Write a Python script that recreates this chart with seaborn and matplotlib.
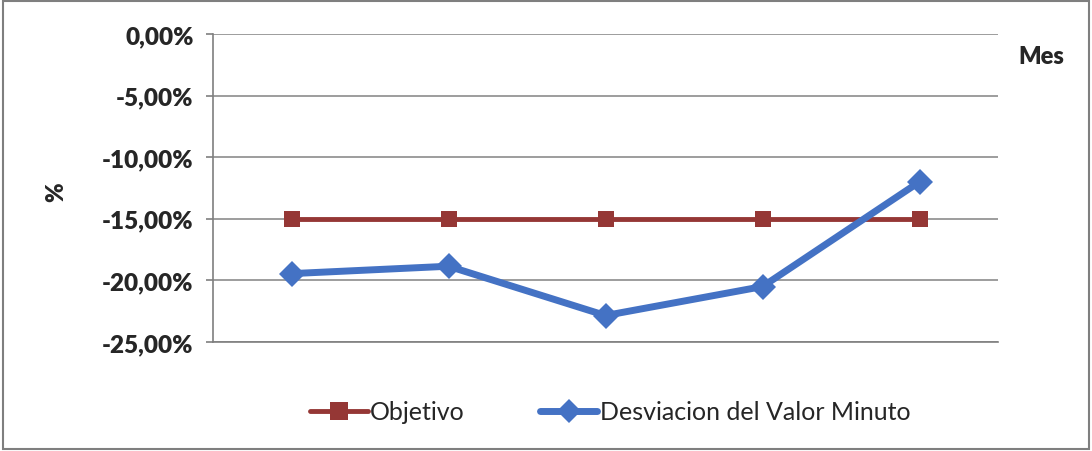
import matplotlib
matplotlib.use("Agg")
import matplotlib.pyplot as plt
import matplotlib.patches as mpatches
from matplotlib.lines import Line2D
from matplotlib.ticker import FuncFormatter, MultipleLocator
import seaborn as sns
import pandas as pd

# Monthly series (percent)
meses = [1, 2, 3, 4, 5]
objetivo = [-15.0, -15.0, -15.0, -15.0, -15.0]
desviacion = [-19.45, -18.85, -22.85, -20.5, -12.0]
series_names = ["Objetivo", "Desviacion del Valor Minuto"]

df = pd.DataFrame({
    "Mes": meses * 2,
    "valor": objetivo + desviacion,
    "serie": [series_names[0]] * len(meses) + [series_names[1]] * len(meses),
})

sns.set_theme(style="white")
plt.rcParams["font.family"] = ["Lato", "DejaVu Sans"]

red = "#953735"
blue = "#4472C4"

fig = plt.figure(figsize=(10.92, 4.52), dpi=100)
ax = fig.add_axes([213 / 1092, 1 - 343 / 452, (998 - 213) / 1092, (343 - 35) / 452])

sns.lineplot(
    data=df, x="Mes", y="valor", hue="serie", style="serie",
    palette={series_names[0]: red, series_names[1]: blue},
    markers={series_names[0]: "s", series_names[1]: "D"},
    dashes=False, markersize=13, markeredgewidth=0, linewidth=5,
    ax=ax, legend=False,
)
ax.lines[0].set_linewidth(3.5)
ax.lines[0].set_markersize(12)

ax.set_xlim(0.5, 5.5)
ax.set_ylim(-25, 0)
ax.yaxis.set_major_locator(MultipleLocator(5))
ax.yaxis.set_major_formatter(FuncFormatter(lambda v, p: f"{v:.2f}".replace(".", ",") + "%"))
ax.set_xticks([])
ax.grid(axis="y", color="#8c8c8c", linewidth=1.2)
for s in ["top", "right"]:
    ax.spines[s].set_visible(False)
for s in ["left", "bottom"]:
    ax.spines[s].set_color("#7f7f7f")
    ax.spines[s].set_linewidth(1.2)
ax.tick_params(axis="y", left=True, length=5, color="#7f7f7f", width=1.2,
               labelsize=17.5, pad=9)
for lbl in ax.get_yticklabels():
    lbl.set_fontweight("heavy")
ax.set_xlabel("")
ax.set_ylabel("%", fontsize=17, fontweight="heavy", rotation=90)
ax.yaxis.set_label_coords(-0.186, 0.49)

fig.text(1041 / 1092, 1 - 57 / 452, "Mes", fontsize=17, fontweight="heavy",
         ha="center", va="center")

handles = [
    Line2D([], [], color=red, marker="s", markersize=13, linewidth=3.5, markeredgewidth=0),
    Line2D([], [], color=blue, marker="D", markersize=12, linewidth=5, markeredgewidth=0),
]
fig.legend(handles, series_names, loc="center", bbox_to_anchor=(0.559, 1 - 413 / 452),
           ncol=2, frameon=False, fontsize=18, handlelength=2.3, handletextpad=0.1,
           columnspacing=3.0)

fig.add_artist(mpatches.Rectangle((0.003, 0.004), 0.994, 0.992, transform=fig.transFigure,
                                  fill=False, edgecolor="#7f7f7f", linewidth=1.5))

fig.savefig("out.png", dpi=100)
